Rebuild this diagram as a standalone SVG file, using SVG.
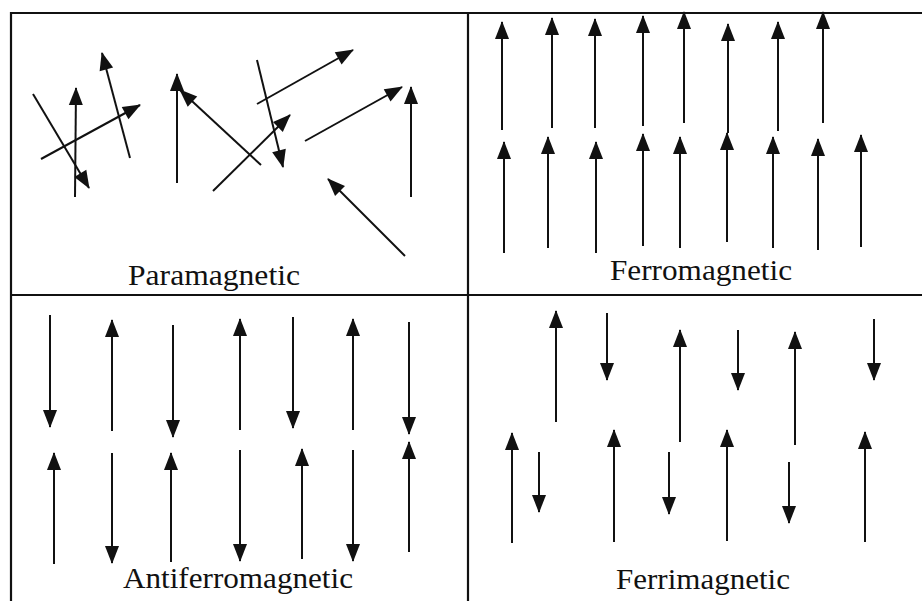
<svg xmlns="http://www.w3.org/2000/svg" width="922" height="601" viewBox="0 0 922 601">
<style>
.f{stroke:#111;stroke-width:2.2;fill:none}
.a{stroke:#111;stroke-width:2;fill:none;marker-end:url(#ah)}
.t{font-family:"Liberation Serif","Times New Roman",serif;font-size:29px;fill:#111}
</style>
<defs>
<marker id="ah" markerUnits="userSpaceOnUse" markerWidth="20" markerHeight="18" viewBox="-18 -9 20 18" refX="0" refY="0" orient="auto">
<path d="M1,0 L-17,-7 L-17,7 Z" fill="#111"/>
</marker>
</defs>
<rect width="922" height="601" fill="#fff"/>
<g id="frame">
<line class="f" x1="11" y1="13" x2="922" y2="13"/>
<line class="f" x1="11" y1="12" x2="11" y2="601"/>
<line class="f" x1="468" y1="13" x2="468" y2="601"/>
<line class="f" x1="11" y1="295" x2="922" y2="295"/>
</g>
<g id="paramagnetic">
<line class="a" x1="33" y1="94" x2="89" y2="188"/>
<line class="a" x1="75" y1="197" x2="76" y2="88"/>
<line class="a" x1="130" y1="158" x2="102" y2="53"/>
<line class="a" x1="41" y1="159" x2="140" y2="105"/>
<line class="a" x1="177" y1="183" x2="177" y2="74"/>
<line class="a" x1="261" y1="165" x2="180" y2="90"/>
<line class="a" x1="213" y1="191" x2="290" y2="115"/>
<line class="a" x1="257" y1="60" x2="283" y2="167"/>
<line class="a" x1="257" y1="104" x2="353" y2="50"/>
<line class="a" x1="305" y1="141" x2="402" y2="87"/>
<line class="a" x1="411" y1="197" x2="411" y2="87"/>
<line class="a" x1="405" y1="256" x2="328" y2="179"/>
<text class="t" x="128" y="285" textLength="172" lengthAdjust="spacingAndGlyphs">Paramagnetic</text>
</g>
<g id="ferromagnetic">
<line class="a" x1="502" y1="130" x2="502" y2="22"/>
<line class="a" x1="552" y1="128" x2="552" y2="18"/>
<line class="a" x1="595" y1="128" x2="595" y2="19"/>
<line class="a" x1="643" y1="126" x2="643" y2="16"/>
<line class="a" x1="684" y1="123" x2="684" y2="12"/>
<line class="a" x1="728" y1="133" x2="728" y2="24"/>
<line class="a" x1="778" y1="131" x2="778" y2="22"/>
<line class="a" x1="823" y1="123" x2="823" y2="12"/>
<line class="a" x1="504" y1="253" x2="504" y2="142"/>
<line class="a" x1="548" y1="248" x2="548" y2="137"/>
<line class="a" x1="596" y1="253" x2="596" y2="142"/>
<line class="a" x1="643" y1="246" x2="643" y2="134"/>
<line class="a" x1="680" y1="248" x2="680" y2="137"/>
<line class="a" x1="727" y1="242" x2="727" y2="133"/>
<line class="a" x1="773" y1="248" x2="773" y2="137"/>
<line class="a" x1="818" y1="250" x2="818" y2="139"/>
<line class="a" x1="861" y1="247" x2="861" y2="135"/>
<text class="t" x="610" y="280" textLength="182" lengthAdjust="spacingAndGlyphs">Ferromagnetic</text>
</g>
<g id="antiferromagnetic">
<line class="a" x1="50" y1="315" x2="50" y2="427"/>
<line class="a" x1="112" y1="431" x2="112" y2="320"/>
<line class="a" x1="173" y1="325" x2="173" y2="437"/>
<line class="a" x1="240" y1="430" x2="240" y2="319"/>
<line class="a" x1="293" y1="317" x2="293" y2="428"/>
<line class="a" x1="353" y1="430" x2="353" y2="319"/>
<line class="a" x1="409" y1="322" x2="409" y2="434"/>
<line class="a" x1="54" y1="564" x2="54" y2="453"/>
<line class="a" x1="112" y1="453" x2="112" y2="563"/>
<line class="a" x1="171" y1="562" x2="171" y2="453"/>
<line class="a" x1="240" y1="450" x2="240" y2="561"/>
<line class="a" x1="302" y1="559" x2="302" y2="449"/>
<line class="a" x1="353" y1="450" x2="353" y2="561"/>
<line class="a" x1="409" y1="552" x2="409" y2="442"/>
<text class="t" x="123" y="588" textLength="230" lengthAdjust="spacingAndGlyphs">Antiferromagnetic</text>
</g>
<g id="ferrimagnetic">
<line class="a" x1="556" y1="422" x2="556" y2="311"/>
<line class="a" x1="607" y1="313" x2="607" y2="380"/>
<line class="a" x1="680" y1="442" x2="680" y2="330"/>
<line class="a" x1="738" y1="330" x2="738" y2="390"/>
<line class="a" x1="795" y1="445" x2="795" y2="332"/>
<line class="a" x1="874" y1="319" x2="874" y2="380"/>
<line class="a" x1="512" y1="543" x2="512" y2="433"/>
<line class="a" x1="539" y1="452" x2="539" y2="512"/>
<line class="a" x1="614" y1="542" x2="614" y2="430"/>
<line class="a" x1="669" y1="452" x2="669" y2="514"/>
<line class="a" x1="727" y1="541" x2="727" y2="430"/>
<line class="a" x1="789" y1="462" x2="789" y2="523"/>
<line class="a" x1="865" y1="542" x2="865" y2="432"/>
<text class="t" x="616" y="589" textLength="174" lengthAdjust="spacingAndGlyphs">Ferrimagnetic</text>
</g>
</svg>
